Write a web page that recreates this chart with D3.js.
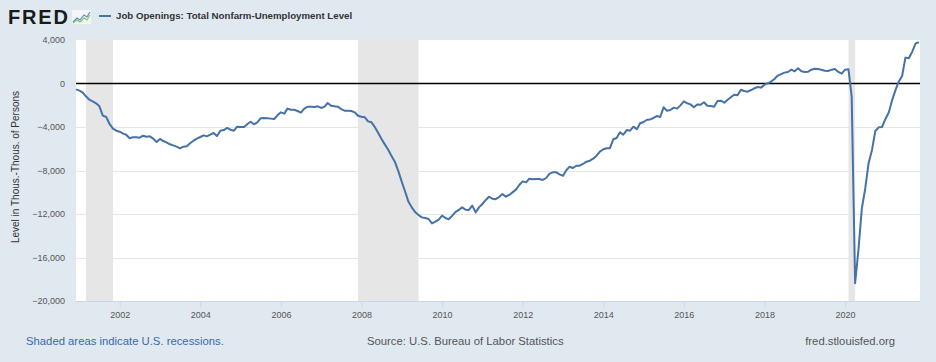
<!DOCTYPE html>
<html>
<head>
<meta charset="utf-8">
<script src="https://cdn.jsdelivr.net/npm/d3@7"></script>
<style>
  body { margin: 0; background: #e1e9f0; }
  svg { display: block; font-family: "Liberation Sans", Arial, sans-serif; }
</style>
</head>
<body>
<div id="chart"></div>
<script>
// Monthly values, Dec 2000 .. Nov 2021 (thousands of persons)
var firstMonth = "2000-12-01";
var values = [
  -540,
  -660, -840, -1180, -1490, -1640, -1820, -2100, -2960, -3080, -3720, -4150, -4340,
  -4430, -4610, -4710, -5040, -4950, -4950, -4980, -4800, -4890, -4860, -5070, -5380,
  -5100, -5290, -5410, -5590, -5690, -5810, -5960, -5810, -5780, -5500, -5260, -5070,
  -4920, -4770, -4860, -4710, -4550, -4830, -4340, -4280, -4090, -4250, -4340, -3970,
  -4000, -4000, -3750, -3510, -3750, -3570, -3200, -3170, -3200, -3230, -3260, -2930,
  -2650, -2770, -2310, -2410, -2410, -2530, -2680, -2310, -2130, -2130, -2160, -2100,
  -2250, -2130, -1790, -2040, -2100, -2130, -2350, -2500, -2500, -2530, -2650, -2960,
  -3050, -3110, -3480, -3570, -4000, -4550, -5100, -5620, -6110, -6700, -7250, -8080,
  -9060, -9980, -10840, -11390, -11820, -12090, -12310, -12370, -12460, -12860, -12700, -12520,
  -12150, -12370, -12490, -12180, -11820, -11630, -11390, -11600, -11630, -11230, -11850, -11390,
  -11080, -10710, -10410, -10590, -10640, -10440, -10160, -10410, -10250, -10010, -9760, -9330,
  -9000, -9090, -8750, -8810, -8780, -8780, -8870, -8690, -8290, -8170, -8170, -8350,
  -8480, -7950, -7650, -7770, -7560, -7560, -7400, -7190, -7100, -6910, -6640, -6270,
  -6050, -5960, -5960, -5130, -5010, -4490, -4710, -4280, -4340, -3970, -4200, -3660,
  -3540, -3330, -3300, -3170, -2990, -3080, -2190, -2500, -2440, -2220, -2310, -2010,
  -1640, -1820, -1920, -2190, -1920, -1950, -1730, -2040, -2070, -2130, -1610, -1580,
  -1760, -1490, -1270, -1030, -1090, -570, -690, -750, -600, -440, -320, -380,
  -110, 20, 170, 410, 730, 870, 1000, 1060, 1270, 1120, 1400, 1120,
  1060, 1090, 1270, 1360, 1330, 1270, 1180, 1150, 1270, 1330, 1060, 910,
  1270, 1300, -1210, -18370, -15300, -11480, -9700, -7340, -6110, -4370, -4030, -4000,
  -3260, -2650, -1580, -630, 170, 690, 2380, 2320, 2930, 3690, 3790
];

// US recessions (start, end)
var recessions = [
  ["2001-03-01", "2001-11-01"],
  ["2007-12-01", "2009-06-01"],
  ["2020-02-01", "2020-04-01"]
];

var yTicks = [4000, 0, -4000, -8000, -12000, -16000, -20000];
var seriesTitle = "Job Openings: Total Nonfarm-Unemployment Level";
var yTitle = "Level in Thous.-Thous. of Persons";

var parseDate = d3.timeParse("%Y-%m-%d");
var start = parseDate(firstMonth);
var data = values.map(function(v, i) {
  return { date: d3.timeMonth.offset(start, i), value: v };
});

var W = 936, H = 362;
var plot = { left: 76, right: 919, top: 40, bottom: 301 };

var svg = d3.select("#chart")
  .append("svg")
  .attr("width", W)
  .attr("height", H);

svg.append("rect")
  .attr("width", W).attr("height", H)
  .attr("fill", "#e1e9f0");

var x = d3.scaleTime()
  .domain([data[0].date, data[data.length - 1].date])
  .range([plot.left, plot.right]);

var y = d3.scaleLinear()
  .domain([-20000, 4000])
  .range([plot.bottom, plot.top]);

// plot background
svg.append("rect")
  .attr("x", plot.left)
  .attr("y", plot.top)
  .attr("width", 920 - plot.left)
  .attr("height", plot.bottom - plot.top)
  .attr("fill", "#ffffff");

// recession shading
svg.selectAll(".recession")
  .data(recessions)
  .enter().append("rect")
  .attr("class", "recession")
  .attr("x", function(d) { return x(parseDate(d[0])); })
  .attr("y", plot.top)
  .attr("width", function(d) { return x(parseDate(d[1])) - x(parseDate(d[0])); })
  .attr("height", plot.bottom - plot.top)
  .attr("fill", "#e6e6e6");

// horizontal grid
svg.append("g")
  .selectAll("line")
  .data(yTicks.filter(function(t) { return t !== 0 && t !== 4000 && t !== -20000; }))
  .enter().append("line")
  .attr("x1", plot.left).attr("x2", 920)
  .attr("y1", function(d) { return Math.round(y(d)) + 0.5; })
  .attr("y2", function(d) { return Math.round(y(d)) + 0.5; })
  .attr("stroke", "#e6e6e6")
  .attr("stroke-width", 1);

// y axis labels
var yAxis = svg.append("g")
  .attr("class", "y-axis")
  .attr("transform", "translate(" + plot.left + ",0)")
  .call(d3.axisLeft(y).tickValues(yTicks).tickSize(0).tickPadding(11)
    .tickFormat(d3.format(",")));
yAxis.select(".domain").remove();
yAxis.selectAll("text")
  .attr("fill", "#555")
  .style("font-size", "9px")
  .style("font-family", "'Liberation Sans', Arial, sans-serif");

// x axis
var xAxis = svg.append("g")
  .attr("class", "x-axis")
  .attr("transform", "translate(0," + plot.bottom + ")")
  .call(d3.axisBottom(x).ticks(d3.timeYear.every(2)).tickSize(6).tickPadding(5)
    .tickFormat(d3.timeFormat("%Y")));
xAxis.select(".domain")
  .attr("d", "M" + plot.left + ",0.5H920")
  .attr("stroke", "#ccd6eb");
xAxis.selectAll(".tick line").attr("stroke", "#ccd6eb");
xAxis.selectAll("text")
  .attr("fill", "#555")
  .style("font-size", "9px")
  .style("font-family", "'Liberation Sans', Arial, sans-serif");

// zero line
svg.append("line")
  .attr("x1", plot.left).attr("x2", 920)
  .attr("y1", y(0)).attr("y2", y(0))
  .attr("stroke", "#000")
  .attr("stroke-width", 1.6);

// data line
var line = d3.line()
  .x(function(d) { return x(d.date); })
  .y(function(d) { return y(d.value); });

svg.append("path")
  .datum(data)
  .attr("d", line)
  .attr("fill", "none")
  .attr("stroke", "#4572a7")
  .attr("stroke-width", 2)
  .attr("stroke-linejoin", "round");

// y title
svg.append("text")
  .attr("transform", "translate(19,167) rotate(-90)")
  .attr("text-anchor", "middle")
  .attr("fill", "#333")
  .style("font-size", "10px")
  .text(yTitle);

// header: FRED logo
svg.append("text")
  .attr("x", 8).attr("y", 24)
  .attr("fill", "#1a1a1a")
  .attr("textLength", 60)
  .style("font-size", "20px")
  .style("font-weight", "900")
  .text("FRED");
var icon = svg.append("g").attr("transform", "translate(72,10)");
icon.append("rect").attr("width", 19).attr("height", 14).attr("fill", "#f3f5f7");
icon.append("path")
  .attr("d", "M1,12 L5,8 L8,10 L12,5 L15,7 L18,2")
  .attr("fill", "none").attr("stroke", "#5a8fc8").attr("stroke-width", 1.2);
icon.append("path")
  .attr("d", "M1,13 L5,10 L8,12 L12,8 L15,10 L18,5")
  .attr("fill", "none").attr("stroke", "#8cbf6a").attr("stroke-width", 1.2);

// legend
svg.append("line")
  .attr("x1", 99).attr("x2", 111)
  .attr("y1", 16).attr("y2", 16)
  .attr("stroke", "#4572a7").attr("stroke-width", 2);
svg.append("text")
  .attr("x", 116).attr("y", 19.3)
  .attr("fill", "#333")
  .style("font-size", "9.7px")
  .style("font-weight", "bold")
  .text(seriesTitle);

// footer
svg.append("text")
  .attr("x", 26).attr("y", 345)
  .attr("fill", "#3a68a8")
  .style("font-size", "11.3px")
  .text("Shaded areas indicate U.S. recessions.");
svg.append("text")
  .attr("x", 367).attr("y", 345)
  .attr("fill", "#555")
  .style("font-size", "11.3px")
  .text("Source: U.S. Bureau of Labor Statistics");
svg.append("text")
  .attr("x", 895).attr("y", 345)
  .attr("text-anchor", "end")
  .attr("fill", "#555")
  .style("font-size", "11.3px")
  .text("fred.stlouisfed.org");
</script>
</body>
</html>
